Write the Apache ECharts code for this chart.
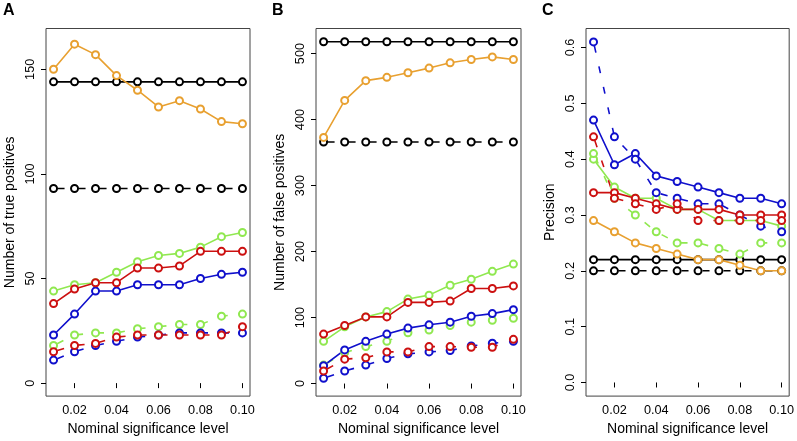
<!DOCTYPE html>
<html>
<head>
<meta charset="utf-8">
<script src="https://cdn.jsdelivr.net/npm/echarts@6/dist/echarts.min.js"></script>
<style>
  html, body { margin: 0; padding: 0; background: #fff; }
  #main { width: 797px; height: 441px; }
</style>
</head>
<body>
<div id="main"></div>
<script>
// nominal significance levels (x)
var alpha = [0.01, 0.02, 0.03, 0.04, 0.05, 0.06, 0.07, 0.08, 0.09, 0.10];
var xTicks = [0.02, 0.04, 0.06, 0.08, 0.10];

// A: number of true positives
var tpBlack     = [144, 144, 144, 144, 144, 144, 144, 144, 144, 144];
var tpBlackDash = [93, 93, 93, 93, 93, 93, 93, 93, 93, 93];
var tpOrange    = [150, 162, 157, 147, 140, 132, 135, 131, 125, 124];
var tpGreen     = [44, 47, 48, 53, 58, 61, 62, 65, 70, 72];
var tpGreenDash = [18, 23, 24, 24, 26, 27, 28, 28, 32, 33];
var tpBlue      = [23, 33, 44, 44, 47, 47, 47, 50, 52, 53];
var tpBlueDash  = [11, 15, 18, 20, 22, 23, 24, 24, 24, 24];
var tpRed       = [38, 45, 48, 48, 55, 55, 56, 63, 63, 63];
var tpRedDash   = [15, 18, 19, 22, 23, 23, 23, 23, 23, 27];
var tpTicks = [0, 50, 100, 150];

// B: number of false positives
var fpBlack     = [518, 518, 518, 518, 518, 518, 518, 518, 518, 518];
var fpBlackDash = [366, 366, 366, 366, 366, 366, 366, 366, 366, 366];
var fpOrange    = [373, 429, 459, 464, 471, 478, 486, 491, 495, 491];
var fpGreen     = [64, 86, 101, 109, 128, 134, 149, 158, 170, 181];
var fpGreenDash = [28, 47, 56, 64, 77, 81, 88, 93, 96, 99];
var fpBlue      = [27, 51, 64, 75, 84, 89, 93, 102, 106, 112];
var fpBlueDash  = [8, 19, 28, 38, 45, 48, 50, 57, 61, 64];
var fpRed       = [75, 88, 101, 101, 123, 123, 125, 144, 144, 148];
var fpRedDash   = [19, 37, 39, 48, 48, 56, 56, 55, 55, 67];
var fpTicks = [0, 100, 200, 300, 400, 500];

// C: precision
var prBlack     = [0.22, 0.22, 0.22, 0.22, 0.22, 0.22, 0.22, 0.22, 0.22, 0.22];
var prBlackDash = [0.20, 0.20, 0.20, 0.20, 0.20, 0.20, 0.20, 0.20, 0.20, 0.20];
var prOrange    = [0.29, 0.27, 0.25, 0.24, 0.23, 0.22, 0.22, 0.21, 0.20, 0.20];
var prGreen     = [0.40, 0.35, 0.33, 0.33, 0.31, 0.31, 0.29, 0.29, 0.29, 0.28];
var prGreenDash = [0.41, 0.33, 0.30, 0.27, 0.25, 0.25, 0.24, 0.23, 0.25, 0.25];
var prBlue      = [0.47, 0.39, 0.41, 0.37, 0.36, 0.35, 0.34, 0.33, 0.33, 0.32];
var prBlueDash  = [0.61, 0.44, 0.40, 0.34, 0.33, 0.32, 0.32, 0.30, 0.28, 0.27];
var prRed       = [0.34, 0.34, 0.33, 0.32, 0.31, 0.31, 0.31, 0.30, 0.30, 0.30];
var prRedDash   = [0.44, 0.33, 0.32, 0.31, 0.32, 0.29, 0.29, 0.29, 0.29, 0.29];
var prTicks = [0.0, 0.1, 0.2, 0.3, 0.4, 0.5, 0.6];

var BLACK = '#000000', ORANGE = '#E8A030', GREEN = '#90E850', BLUE = '#1010CC', RED = '#CC1010';
var FONT = 'Liberation Sans';

var chart = echarts.init(document.getElementById('main'), null, { renderer: 'canvas' });

function line(idx, vals, color, dashed) {
  return {
    type: 'line',
    xAxisIndex: idx,
    yAxisIndex: idx,
    data: alpha.map(function (a, i) { return [a, vals[i]]; }),
    symbol: 'emptyCircle',
    symbolSize: 7,
    showAllSymbol: true,
    animation: false,
    lineStyle: {
      color: color,
      width: 1.6,
      type: dashed ? [7, 14] : 'solid',
      dashOffset: dashed ? 17 : 0
    },
    itemStyle: { color: color, borderColor: color, borderWidth: 1.7 },
    emphasis: { disabled: true }
  };
}

function xAxis(idx) {
  return {
    type: 'value',
    gridIndex: idx,
    min: 0.0064,
    max: 0.1036,
    name: 'Nominal significance level',
    nameLocation: 'middle',
    nameGap: 23,
    nameTextStyle: { fontFamily: FONT, fontSize: 14, color: '#000' },
    axisLine: { show: false },
    axisTick: { show: true, length: 5, lineStyle: { color: '#000' }, customValues: xTicks },
    axisLabel: {
      fontFamily: FONT, fontSize: 12.7, color: '#000', margin: 8,
      customValues: xTicks,
      formatter: function (v) { return v.toFixed(2); }
    },
    splitLine: { show: false }
  };
}

function yAxis(idx, min, max, ticks, name, fmt) {
  return {
    type: 'value',
    gridIndex: idx,
    min: min,
    max: max,
    name: name,
    nameLocation: 'middle',
    nameGap: 29,
    nameTextStyle: { fontFamily: FONT, fontSize: 14, color: '#000' },
    axisLine: { show: false },
    axisTick: { show: true, length: 5, lineStyle: { color: '#000' }, customValues: ticks },
    axisLabel: {
      fontFamily: FONT, fontSize: 12.7, color: '#000', margin: 9, rotate: 90,
      customValues: ticks,
      formatter: fmt
    },
    splitLine: { show: false }
  };
}

var gridBase = { show: true, borderColor: '#444', borderWidth: 1, top: 28.5, height: 368.5, width: 205, containLabel: false };

var option = {
  backgroundColor: '#fff',
  animation: false,
  title: [
    { text: 'A', left: 3, top: 3, padding: 0, textStyle: { fontFamily: FONT, fontSize: 16, fontWeight: 'bold', color: '#000' } },
    { text: 'B', left: 272, top: 3, padding: 0, textStyle: { fontFamily: FONT, fontSize: 16, fontWeight: 'bold', color: '#000' } },
    { text: 'C', left: 542, top: 3, padding: 0, textStyle: { fontFamily: FONT, fontSize: 16, fontWeight: 'bold', color: '#000' } }
  ],
  grid: [
    Object.assign({}, gridBase, { left: 46, width: 204 }),
    Object.assign({}, gridBase, { left: 316 }),
    Object.assign({}, gridBase, { left: 586 })
  ],
  xAxis: [xAxis(0), xAxis(1), xAxis(2)],
  yAxis: [
    yAxis(0, -6.2, 169.5, tpTicks, 'Number of true positives', function (v) { return String(v); }),
    yAxis(1, -19, 538, fpTicks, 'Number of false positives', function (v) { return String(v); }),
    yAxis(2, -0.0244, 0.634, prTicks, 'Precision', function (v) { return v.toFixed(1); })
  ],
  series: [
    line(0, tpBlack, BLACK, false), line(0, tpBlackDash, BLACK, true), line(0, tpOrange, ORANGE, false),
    line(0, tpGreen, GREEN, false), line(0, tpGreenDash, GREEN, true),
    line(0, tpBlue, BLUE, false), line(0, tpBlueDash, BLUE, true),
    line(0, tpRed, RED, false), line(0, tpRedDash, RED, true),

    line(1, fpBlack, BLACK, false), line(1, fpBlackDash, BLACK, true), line(1, fpOrange, ORANGE, false),
    line(1, fpGreen, GREEN, false), line(1, fpGreenDash, GREEN, true),
    line(1, fpBlue, BLUE, false), line(1, fpBlueDash, BLUE, true),
    line(1, fpRed, RED, false), line(1, fpRedDash, RED, true),

    line(2, prBlack, BLACK, false), line(2, prBlackDash, BLACK, true), line(2, prOrange, ORANGE, false),
    line(2, prGreen, GREEN, false), line(2, prGreenDash, GREEN, true),
    line(2, prBlue, BLUE, false), line(2, prBlueDash, BLUE, true),
    line(2, prRed, RED, false), line(2, prRedDash, RED, true)
  ]
};

chart.setOption(option);
</script>
</body>
</html>
